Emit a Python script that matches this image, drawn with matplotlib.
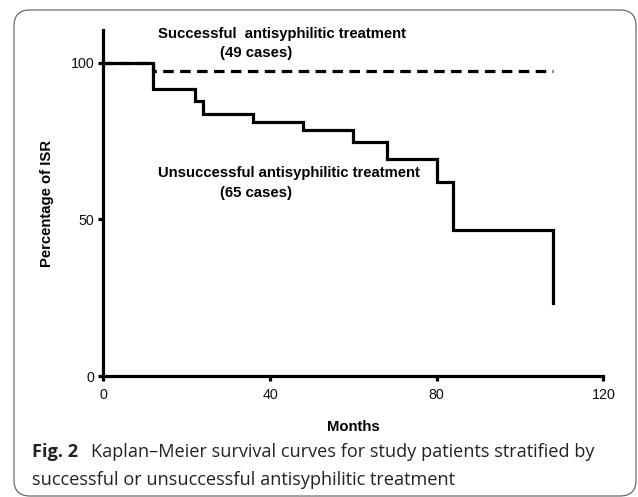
import matplotlib
matplotlib.use("Agg")
import matplotlib.pyplot as plt
from matplotlib.patches import FancyBboxPatch
from matplotlib.transforms import IdentityTransform

# Kaplan-Meier steps
months_unsucc = [0, 12, 22, 24, 36, 48, 60, 68, 80, 84, 108]
surv_unsucc = [100, 91.5, 87.8, 83.7, 81.2, 78.5, 74.6, 69.2, 62.0, 46.7, 23.2]
months_succ = [0, 12, 108]
surv_succ = [100, 97.4, 97.4]

x_ticks = [0, 40, 80, 120]
y_ticks = [0, 50, 100]

W, H = 638, 497
fig = plt.figure(figsize=(W / 100, H / 100), dpi=100)
ax = fig.add_axes([103.4 / W, 1 - 376 / H, 500 / W, 346 / H])

lw = 2.3
ax.plot(months_succ, surv_succ, drawstyle="steps-post", color="black",
        lw=lw, dashes=(3.3, 2.0), dash_capstyle="butt")
ax.plot(months_unsucc, surv_unsucc, drawstyle="steps-post", color="black",
        lw=lw, solid_joinstyle="miter")

ax.set_xlim(0, 120)
ax.set_ylim(0, 110.4)
ax.set_xticks(x_ticks)
ax.set_yticks(y_ticks)
for s in ["top", "right"]:
    ax.spines[s].set_visible(False)
for s in ["left", "bottom"]:
    ax.spines[s].set_linewidth(lw)
ax.tick_params(direction="out", length=3.6, width=lw, pad=3,
               labelsize=10.3, labelcolor="#111111")
ax.tick_params(axis="x", pad=4.8)
for lab in ax.get_xticklabels() + ax.get_yticklabels():
    lab.set_family("Liberation Sans")

bold = dict(family="Liberation Sans", weight="bold", fontsize=10.7)
ax.set_xlabel("Months", labelpad=13, **bold)
ax.set_ylabel("Percentage of ISR", labelpad=12, **bold)

ax.text(13.1, 109.2, "Successful  antisyphilitic treatment", ha="left", va="center", **bold)
ax.text(36.6, 103.1, "(49 cases)", ha="center", va="center", **bold)
ax.text(13.1, 64.8, "Unsuccessful antisyphilitic treatment", ha="left", va="center", **bold)
ax.text(36.7, 58.4, "(65 cases)", ha="center", va="center", **bold)

# caption
cap = dict(family="Open Sans", fontsize=13.1, color="#222222")
fig.text(32 / W, 1 - 452 / H, "Fig. 2", ha="left", va="center", weight="bold", **cap)
fig.text(91 / W, 1 - 452 / H,
         "Kaplan\u2013Meier survival curves for study patients stratified by",
         ha="left", va="center", **cap)
fig.text(32 / W, 1 - 480 / H,
         "successful or unsuccessful antisyphilitic treatment",
         ha="left", va="center", **cap)

# rounded frame
frame = FancyBboxPatch((14, 1), 622, 486, boxstyle="round,pad=0,rounding_size=16",
                       transform=IdentityTransform(), fill=False,
                       edgecolor="#6a6a6a", lw=0.9)
fig.patches.append(frame)

fig.savefig("out.png", dpi=100)
